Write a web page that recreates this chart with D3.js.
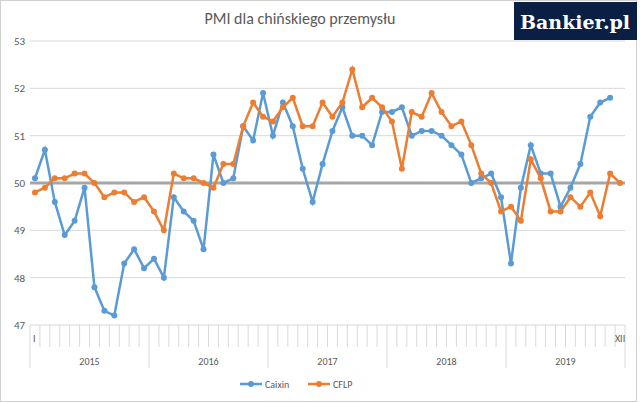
<html>
<head>
<meta charset="utf-8" />
<script src="https://d3js.org/d3.v7.min.js"></script>
<style>body{margin:0;background:#fff;font-family:Calibri,Carlito,"Liberation Sans",sans-serif;}</style>
</head>
<body>
<div id="chart"></div>
<script>
const years = ["2015", "2016", "2017", "2018", "2019"];
const yTicks = [47, 48, 49, 50, 51, 52, 53];
const caixin = [50.1,50.7,49.6,48.9,49.2,49.9,47.8,47.3,47.2,48.3,48.6,48.2,
  48.4,48.0,49.7,49.4,49.2,48.6,50.6,50.0,50.1,51.2,50.9,51.9,
  51.0,51.7,51.2,50.3,49.6,50.4,51.1,51.6,51.0,51.0,50.8,51.5,
  51.5,51.6,51.0,51.1,51.1,51.0,50.8,50.6,50.0,50.1,50.2,49.7,
  48.3,49.9,50.8,50.2,50.2,49.5,49.9,50.4,51.4,51.7,51.8];
const cflp = [49.8,49.9,50.1,50.1,50.2,50.2,50.0,49.7,49.8,49.8,49.6,49.7,
  49.4,49.0,50.2,50.1,50.1,50.0,49.9,50.4,50.4,51.2,51.7,51.4,
  51.3,51.6,51.8,51.2,51.2,51.7,51.4,51.7,52.4,51.6,51.8,51.6,
  51.3,50.3,51.5,51.4,51.9,51.5,51.2,51.3,50.8,50.2,50.0,49.4,
  49.5,49.2,50.5,50.1,49.4,49.4,49.7,49.5,49.8,49.3,50.2,50.0];

const W = 640, H = 403;
const svg = d3.select("#chart").append("svg").attr("width", W).attr("height", H);
svg.append("rect").attr("x", 0.5).attr("y", 0.5).attr("width", 636).attr("height", 401)
  .attr("fill", "#fff").attr("stroke", "#d0d0d0");

const x = d3.scaleBand().domain(d3.range(60)).range([30, 625]);
const y = d3.scaleLinear().domain([47, 53]).range([325, 41]);

// grid
svg.selectAll(".grid").data(yTicks).enter().append("line")
  .attr("x1", 30).attr("x2", 625).attr("y1", d => y(d)).attr("y2", d => y(d))
  .attr("stroke", "#d9d9d9");
svg.selectAll(".yl").data(yTicks).enter().append("text")
  .attr("x", 14).attr("y", d => y(d) + 4).attr("font-size", 11).attr("fill", "#595959")
  .text(d => d);

// 50 line
svg.append("line").attr("x1", 30).attr("x2", 625).attr("y1", y(50)).attr("y2", y(50))
  .attr("stroke", "#a6a6a6").attr("stroke-width", 3);

// category axis
svg.selectAll(".mt").data(d3.range(61)).enter().append("line")
  .attr("x1", d => 30 + d * x.step()).attr("x2", d => 30 + d * x.step())
  .attr("y1", 325).attr("y2", d => d % 12 === 0 ? 368 : 347)
  .attr("stroke", "#d9d9d9");
svg.append("text").attr("x", x(0) + 3).attr("y", 342).attr("font-size", 10).attr("fill", "#595959").text("I");
svg.append("text").attr("x", x(59) + x.bandwidth() / 2).attr("y", 342).attr("text-anchor", "middle")
  .attr("font-size", 10).attr("fill", "#595959").text("XII");
svg.selectAll(".yr").data(years).enter().append("text")
  .attr("x", (d, i) => 30 + (i * 12 + 6) * x.step()).attr("y", 365)
  .attr("text-anchor", "middle").attr("font-size", 10).attr("fill", "#595959").text(d => d);

// series
const cx = i => x(i) + x.bandwidth() / 2;
[[caixin, "#5b9bd5"], [cflp, "#ed7d31"]].forEach(([data, col]) => {
  svg.append("path").datum(data)
    .attr("d", d3.line().x((d, i) => cx(i)).y(d => y(d)))
    .attr("fill", "none").attr("stroke", col).attr("stroke-width", 2.5);
  svg.selectAll(null).data(data).enter().append("circle")
    .attr("cx", (d, i) => cx(i)).attr("cy", d => y(d)).attr("r", 3).attr("fill", col);
});

// title
svg.append("text").attr("x", 300).attr("y", 24).attr("text-anchor", "middle")
  .attr("font-size", 16).attr("fill", "#595959").text("PMI dla chińskiego przemysłu");

// logo
svg.append("rect").attr("x", 514).attr("y", 2).attr("width", 123).attr("height", 38).attr("fill", "#0a1f44");
svg.append("text").attr("x", 575).attr("y", 29).attr("text-anchor", "middle")
  .attr("font-family", "'DejaVu Serif','Liberation Serif',serif").attr("font-weight", "bold")
  .attr("font-size", 19).attr("fill", "#fff").text("Bankier.pl");

// legend
const leg = [["Caixin", "#5b9bd5", 240], ["CFLP", "#ed7d31", 308]];
leg.forEach(([n, col, lx]) => {
  svg.append("line").attr("x1", lx).attr("x2", lx + 22).attr("y1", 384).attr("y2", 384)
    .attr("stroke", col).attr("stroke-width", 2.5);
  svg.append("circle").attr("cx", lx + 11).attr("cy", 384).attr("r", 3).attr("fill", col);
  svg.append("text").attr("x", lx + 25).attr("y", 388).attr("font-size", 10).attr("fill", "#595959").text(n);
});
</script>
</body>
</html>
